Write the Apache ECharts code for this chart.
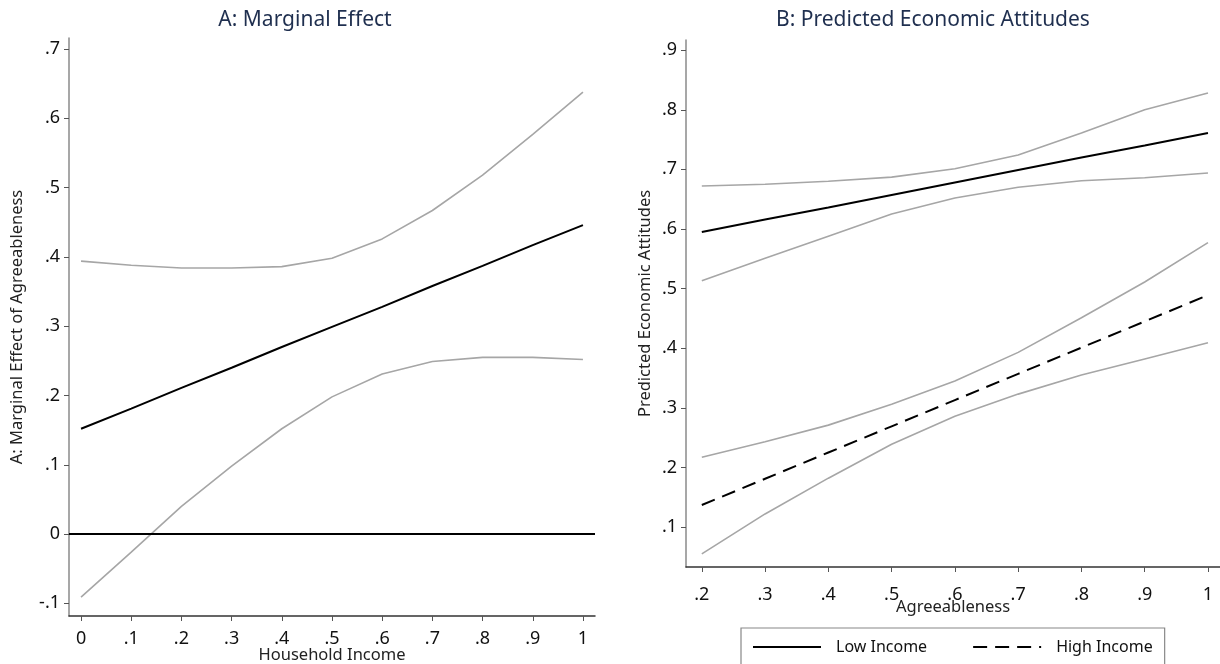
<!DOCTYPE html>
<html>
<head>
<meta charset="utf-8">
<script src="https://cdn.jsdelivr.net/npm/echarts@6/dist/echarts.min.js"></script>
<style>
  html, body { margin: 0; padding: 0; background: #fff; }
  #chart { width: 1220px; height: 664px; }
</style>
</head>
<body>
<div id="chart"></div>
<script>
// Panel A: marginal effect of agreeableness across household income
const incomeX   = [0, 0.1, 0.2, 0.3, 0.4, 0.5, 0.6, 0.7, 0.8, 0.9, 1];
const meEstimate = [0.152, 0.181, 0.211, 0.240, 0.270, 0.299, 0.328, 0.358, 0.387, 0.417, 0.446];
const meUpper    = [0.394, 0.388, 0.384, 0.384, 0.386, 0.398, 0.426, 0.467, 0.518, 0.577, 0.638];
const meLower    = [-0.091, -0.026, 0.040, 0.098, 0.152, 0.198, 0.231, 0.249, 0.255, 0.255, 0.252];
const meXTicks = [0, 0.1, 0.2, 0.3, 0.4, 0.5, 0.6, 0.7, 0.8, 0.9, 1];
const meYTicks = [-0.1, 0, 0.1, 0.2, 0.3, 0.4, 0.5, 0.6, 0.7];

// Panel B: predicted economic attitudes by agreeableness
const agreeX     = [0.2, 0.3, 0.4, 0.5, 0.6, 0.7, 0.8, 0.9, 1];
const lowIncome  = [0.595, 0.616, 0.636, 0.657, 0.678, 0.699, 0.720, 0.740, 0.761];
const lowUpper   = [0.672, 0.675, 0.680, 0.687, 0.701, 0.724, 0.761, 0.800, 0.828];
const lowLower   = [0.513, 0.551, 0.588, 0.625, 0.652, 0.670, 0.681, 0.686, 0.694];
const highIncome = [0.137, 0.181, 0.225, 0.269, 0.313, 0.357, 0.401, 0.445, 0.489];
const highUpper  = [0.217, 0.243, 0.271, 0.306, 0.345, 0.393, 0.451, 0.511, 0.577];
const highLower  = [0.055, 0.122, 0.182, 0.239, 0.286, 0.323, 0.355, 0.382, 0.409];
const attXTicks = [0.2, 0.3, 0.4, 0.5, 0.6, 0.7, 0.8, 0.9, 1];
const attYTicks = [0.1, 0.2, 0.3, 0.4, 0.5, 0.6, 0.7, 0.8, 0.9];

const FONT = '"Noto Sans", "Open Sans", sans-serif';
const pairs = (xs, ys) => xs.map((x, i) => [x, ys[i]]);

// Stata-style labels: ".7", "-.1", "0", "1"
function fmt(v) {
  const r = Math.round(v * 10) / 10;
  return String(r).replace(/^(-?)0\./, '$1.');
}

function valueAxis(ticks, min, max, extra, labelMargin) {
  return Object.assign({
    type: 'value',
    min: min,
    max: max,
    nameMoveOverlap: false,
    splitLine: { show: false },
    axisLine: { show: true, onZero: false, lineStyle: { color: '#333', width: 1.5 } },
    axisTick: { show: true, length: 5, customValues: ticks, lineStyle: { color: '#555', width: 1 } },
    axisLabel: {
      customValues: ticks, formatter: fmt, color: '#111',
      fontFamily: FONT, fontSize: 18, margin: labelMargin, showMinLabel: true, showMaxLabel: true
    },
    nameTextStyle: { color: '#222', fontFamily: FONT, fontSize: 16.5 }
  }, extra);
}

const grayLine = { color: '#a6a6a6', width: 1.6 };
const blackLine = { color: '#000', width: 2 };

const option = {
  animation: false,
  backgroundColor: '#fff',
  title: [
    { text: 'A: Marginal Effect', left: 300, top: 5, textAlign: 'center',
      textStyle: { color: '#1f2f4f', fontFamily: FONT, fontSize: 21, fontWeight: 'normal' } },
    { text: 'B: Predicted Economic Attitudes', left: 928, top: 5, textAlign: 'center',
      textStyle: { color: '#1f2f4f', fontFamily: FONT, fontSize: 21, fontWeight: 'normal' } }
  ],
  legend: {
    data: ['Low Income', 'High Income'],
    left: 741, top: 628,
    padding: [11, 12, 14, 11],
    itemWidth: 68, itemHeight: 14, itemGap: 45,
    itemStyle: { opacity: 0 },
    borderColor: '#888', borderWidth: 1.2,
    textStyle: { color: '#111', fontFamily: FONT, fontSize: 16, padding: [0, 0, 0, 10] }
  },
  grid: [
    { left: 69, top: 38, right: 625, bottom: 48, outerBoundsMode: 'none' },
    { left: 686, top: 40, right: 0, bottom: 97, outerBoundsMode: 'none' }
  ],
  xAxis: [
    valueAxis(meXTicks, -0.024, 1.024, {
      gridIndex: 0, name: 'Household Income', nameLocation: 'middle', nameGap: 31
    }, 14),
    valueAxis(attXTicks, 0.175, 1.019, {
      gridIndex: 1, name: 'Agreeableness', nameLocation: 'middle', nameGap: 32
    }, 19)
  ],
  yAxis: [
    valueAxis(meYTicks, -0.1183, 0.716, {
      gridIndex: 0, name: 'A: Marginal Effect of Agreeableness', nameLocation: 'middle', nameGap: 43,
      axisLine: { show: true, onZero: false, lineStyle: { color: '#8a8a8a', width: 1.5 } }
    }, 9),
    valueAxis(attYTicks, 0.033, 0.917, {
      gridIndex: 1, name: 'Predicted Economic Attitudes', nameLocation: 'middle', nameGap: 32,
      axisLine: { show: true, onZero: false, lineStyle: { color: '#8a8a8a', width: 1.5 } }
    }, 9)
  ],
  series: [
    // Panel A
    { name: 'ME upper', type: 'line', xAxisIndex: 0, yAxisIndex: 0, data: pairs(incomeX, meUpper),
      symbol: 'none', lineStyle: grayLine, silent: true },
    { name: 'ME lower', type: 'line', xAxisIndex: 0, yAxisIndex: 0, data: pairs(incomeX, meLower),
      symbol: 'none', lineStyle: grayLine, silent: true },
    { name: 'Marginal effect', type: 'line', xAxisIndex: 0, yAxisIndex: 0, data: pairs(incomeX, meEstimate),
      symbol: 'none', lineStyle: blackLine, silent: true, z: 3,
      markLine: {
        silent: true, symbol: 'none', label: { show: false },
        lineStyle: { color: '#000', width: 2, type: 'solid' },
        data: [{ yAxis: 0 }]
      } },
    // Panel B
    { name: 'Low upper', type: 'line', xAxisIndex: 1, yAxisIndex: 1, data: pairs(agreeX, lowUpper),
      symbol: 'none', lineStyle: grayLine, silent: true },
    { name: 'Low lower', type: 'line', xAxisIndex: 1, yAxisIndex: 1, data: pairs(agreeX, lowLower),
      symbol: 'none', lineStyle: grayLine, silent: true },
    { name: 'High upper', type: 'line', xAxisIndex: 1, yAxisIndex: 1, data: pairs(agreeX, highUpper),
      symbol: 'none', lineStyle: grayLine, silent: true },
    { name: 'High lower', type: 'line', xAxisIndex: 1, yAxisIndex: 1, data: pairs(agreeX, highLower),
      symbol: 'none', lineStyle: grayLine, silent: true },
    { name: 'Low Income', type: 'line', xAxisIndex: 1, yAxisIndex: 1, data: pairs(agreeX, lowIncome),
      symbol: 'none', itemStyle: { color: '#000' }, lineStyle: blackLine, silent: true, z: 3 },
    { name: 'High Income', type: 'line', xAxisIndex: 1, yAxisIndex: 1, data: pairs(agreeX, highIncome),
      symbol: 'none', itemStyle: { color: '#000' },
      lineStyle: { color: '#000', width: 2, type: [14, 8] }, silent: true, z: 3 }
  ]
};

const chart = echarts.init(document.getElementById('chart'), null, { renderer: 'canvas' });
chart.setOption(option);
</script>
</body>
</html>
